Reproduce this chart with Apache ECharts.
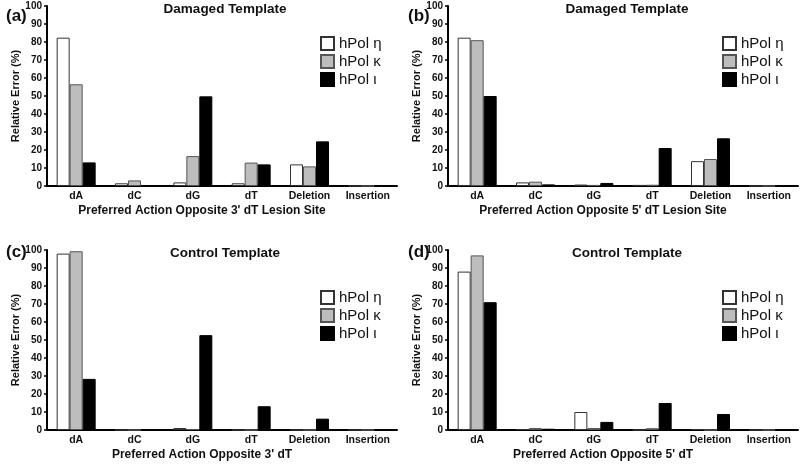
<!DOCTYPE html>
<html>
<head>
<meta charset="utf-8">
<script src="https://cdn.jsdelivr.net/npm/echarts@6/dist/echarts.min.js"></script>
<style>html,body{margin:0;padding:0;background:#fff}#c{width:800px;height:467px}</style>
</head>
<body>
<div id="c"></div>
<script>
const categories = ['dA', 'dC', 'dG', 'dT', 'Deletion', 'Insertion'];
const seriesNames = ['hPol η', 'hPol κ', 'hPol ι'];
const yTicks = [0, 10, 20, 30, 40, 50, 60, 70, 80, 90, 100];

// (a) Damaged template, 3' dT lesion site
const etaA   = [82.4, 1.5, 2.0, 1.5, 12.0, 0];
const kappaA = [56.5, 3.1, 16.6, 13.0, 10.9, 0];
const iotaA  = [13.1, 0, 49.8, 12.0, 24.8, 0];
// (b) Damaged template, 5' dT lesion site
const etaB   = [82.4, 2.0, 0.8, 0.6, 13.8, 0];
const kappaB = [81.0, 2.4, 0.6, 0.7, 15.0, 0];
const iotaB  = [50.0, 0.9, 1.7, 21.1, 26.5, 0];
// (c) Control template, 3' dT
const etaC   = [98.0, 0, 1.1, 0, 0, 0];
const kappaC = [99.3, 0, 0.5, 0, 0, 0];
const iotaC  = [28.4, 0, 52.7, 13.2, 6.3, 0.4];
// (d) Control template, 5' dT
const etaD   = [88.0, 0.5, 10.0, 0, 0.5, 0];
const kappaD = [97.0, 1.1, 1.1, 1.0, 0, 0];
const iotaD  = [71.0, 0.7, 4.5, 15.0, 8.9, 0];

const panelTitles = ['Damaged Template', 'Damaged Template', 'Control Template', 'Control Template'];
const panelLetters = ['a', 'b', 'c', 'd'];
const xNames = ["Preferred Action Opposite 3' dT Lesion Site", "Preferred Action Opposite 5' dT Lesion Site",
                "Preferred Action Opposite 3' dT", "Preferred Action Opposite 5' dT"];
const panelData = [[etaA, kappaA, iotaA], [etaB, kappaB, iotaB], [etaC, kappaC, iotaC], [etaD, kappaD, iotaD]];

const FONT = 'Liberation Sans, Arial, Helvetica, sans-serif';
const styles = [
  { color: '#ffffff', borderColor: '#333333', borderWidth: 1 },
  { color: '#bdbdbd', borderColor: '#555555', borderWidth: 1 },
  { color: '#000000', borderColor: '#000000', borderWidth: 1 }
];

const layout = [
  { left: 47, top: 6, ox: 0, oy: 0, legTop: 36, labTop: 3 },
  { left: 448, top: 6, ox: 402, oy: 0, legTop: 36, labTop: 3 },
  { left: 47, top: 250, ox: 0, oy: 244, legTop: 290, labTop: 239 },
  { left: 448, top: 250, ox: 402, oy: 244, legTop: 290, labTop: 239 }
];

const grids = [], xAxes = [], yAxes = [], series = [], titles = [], legends = [];
layout.forEach((L, i) => {
  grids.push({ left: L.left, top: L.top, width: 350, height: 180 });
  xAxes.push({
    type: 'category', gridIndex: i, data: categories,
    axisLine: { lineStyle: { color: '#000', width: 2 } },
    axisTick: { show: false },
    axisLabel: { interval: 0, color: '#111', fontFamily: FONT, fontWeight: 'bold', fontSize: 10.5, margin: 5 },
    name: xNames[i], nameLocation: 'middle', nameGap: 19,
    nameTextStyle: { color: '#111', fontFamily: FONT, fontWeight: 'bold', fontSize: 12, padding: [0, 40, 0, 0] }
  });
  yAxes.push({
    type: 'value', gridIndex: i, min: 0, max: 100, interval: 10,
    axisLine: { show: true, lineStyle: { color: '#000', width: 2 } },
    axisTick: { show: true, length: 3, lineStyle: { color: '#000', width: 1.5 } },
    splitLine: { show: false },
    axisLabel: { color: '#111', fontFamily: FONT, fontWeight: 'bold', fontSize: 10, margin: 5,
      formatter: v => yTicks.includes(v) ? String(v) : '' },
    name: 'Relative Error (%)', nameLocation: 'middle', nameGap: 26,
    nameTextStyle: { color: '#111', fontFamily: FONT, fontWeight: 'bold', fontSize: 11 }
  });
  seriesNames.forEach((n, k) => {
    series.push({
      type: 'bar', name: n, xAxisIndex: i, yAxisIndex: i,
      data: panelData[i][k], barWidth: 13, barGap: '0%',
      itemStyle: styles[k], emphasis: { disabled: true }
    });
  });
  titles.push({
    text: panelTitles[i], left: L.ox + 220, top: L.oy - 3, textAlign: 'center',
    textStyle: { fontFamily: FONT, fontWeight: 'bold', fontSize: 13.5, color: '#111' }
  });
  titles.push({
    text: '{p|(}{l|' + panelLetters[i] + '}{p|)}', left: L.ox + 1, top: L.labTop,
    textStyle: { rich: {
      p: { fontFamily: FONT, fontSize: 17, color: '#111' },
      l: { fontFamily: FONT, fontSize: 17, fontWeight: 'bold', color: '#111' }
    } }
  });
  legends.push({
    data: seriesNames.map(n => ({ name: n, icon: 'rect' })),
    orient: 'vertical', left: L.ox + 320, top: L.legTop, padding: 0,
    itemWidth: 13, itemHeight: 13, itemGap: 3, selectedMode: false, textGap: 7,
    textStyle: { fontFamily: FONT, fontSize: 15, color: '#111' }
  });
});

const chart = echarts.init(document.getElementById('c'), null, { renderer: 'canvas' });
chart.setOption({
  animation: false,
  backgroundColor: '#fff',
  title: titles, legend: legends,
  grid: grids, xAxis: xAxes, yAxis: yAxes, series: series
});
</script>
</body>
</html>
